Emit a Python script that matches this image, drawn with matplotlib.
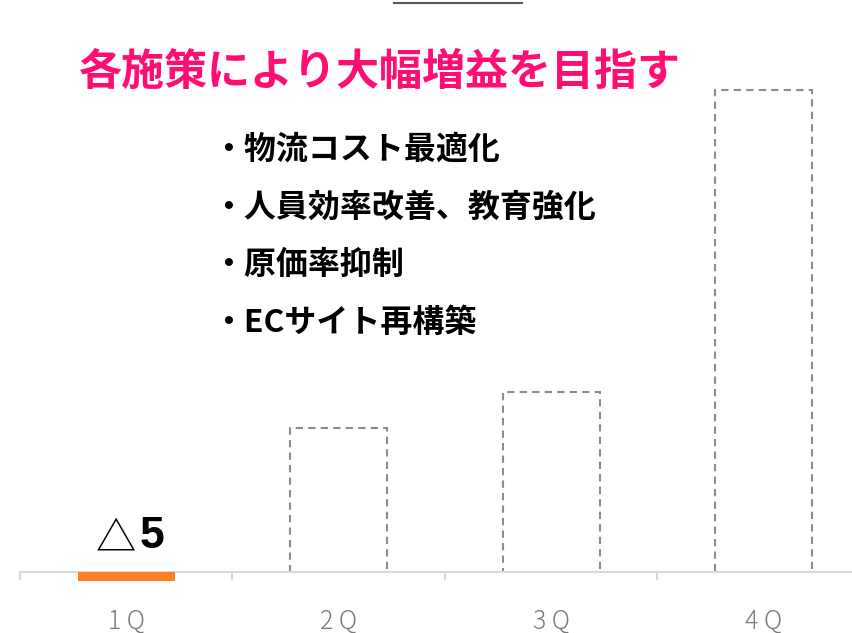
import matplotlib.pyplot as plt
from matplotlib.lines import Line2D

plt.rcParams['font.family'] = ['Noto Sans CJK JP', 'DejaVu Sans']

# quarterly operating profit (1Q actual, 2Q-4Q plan)
quarters = ['1 Q', '2 Q', '3 Q', '4 Q']
actual = [-5, None, None, None]
plan = [None, 80, 100, 268]

title = '各施策により大幅増益を目指す'
measures = ['物流コスト最適化', '人員効率改善、教育強化', '原価率抑制', 'ECサイト再構築']

W, H, DPI = 853, 633, 100
fig = plt.figure(figsize=(W / DPI, H / DPI), dpi=DPI)

base_px = 572          # pixel row of the zero line
px_per_unit = 1.8
ax = fig.add_axes([20 / W, (H - base_px) / H, 850 / W, base_px / H])
ax.set_xlim(-0.5, len(quarters) - 0.5)
ax.set_ylim(0, base_px / px_per_unit)

bw = 0.455
for i, v in enumerate(actual):
    if v is None:
        continue
    ax.bar(i, v, width=bw, color='#fd7e23', clip_on=False, zorder=3)
    lab = '△' if v < 0 else ''
    ax.annotate(lab, (i, 0), xytext=(7, 9), textcoords='offset points',
                ha='right', va='bottom', fontsize=29, color='black')
    ax.annotate(str(abs(v)), (i, 0), xytext=(9.5, 11), textcoords='offset points',
                ha='left', va='bottom', fontsize=32, fontweight='bold',
                color='black', family=['Liberation Sans', 'DejaVu Sans'])

for i, v in enumerate(plan):
    if v is None:
        continue
    ax.bar(i, v, width=bw, facecolor='white', edgecolor='#8c8c8c',
           linewidth=1.5, linestyle=(0, (3.5, 2.5)), zorder=2)

for s in ['top', 'left', 'right']:
    ax.spines[s].set_visible(False)
ax.spines['bottom'].set_color('#d9d9d9')
ax.spines['bottom'].set_linewidth(1.5)
ax.set_yticks([])
ax.set_xticks(range(len(quarters)))
ax.set_xticklabels(quarters, fontsize=18, color='#7a7a7a', fontweight='light')
ax.tick_params(axis='x', which='major', length=0, pad=26)
ax.set_xticks([i + 0.5 for i in range(-1, len(quarters))], minor=True)
ax.tick_params(axis='x', which='minor', length=6, width=1.5, color='#d9d9d9',
               direction='out')

fig.text(380 / W, 1 - 72 / H, title, ha='center', va='center', fontsize=31,
         fontweight='bold', color='#ff0d73')

for k, m in enumerate(measures):
    fig.text(212 / W, 1 - (150 + 57.5 * k) / H, '・' + m, ha='left',
             va='center', fontsize=23, fontweight='bold', color='black')

# underline of the heading just above the frame
fig.add_artist(Line2D([394 / W, 522 / W], [1 - 3 / H, 1 - 3 / H],
                      color='#595959', linewidth=1.5))

fig.savefig('out.png', dpi=DPI)
